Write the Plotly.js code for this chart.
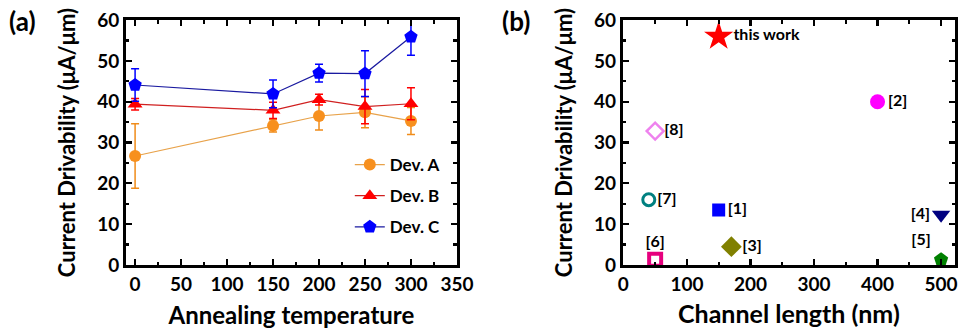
<!DOCTYPE html>
<html>
<head>
<meta charset="utf-8">
<script src="https://cdn.plot.ly/plotly-3.0.1.min.js"></script>
<style>html,body{margin:0;padding:0;background:#fff;}#chart{width:961px;height:329px;}</style>
</head>
<body>
<div id="chart"></div>
<script>
// Panel (a): annealing temperature
const temps = [0, 150, 200, 250, 300];
const devA = [26.7, 34.1, 36.5, 37.4, 35.3];
const devAerr = [7.9, 1.5, 3.4, 3.8, 3.3];
const devB = [39.4, 37.9, 40.5, 38.8, 39.5];
const devBerr = [1.4, 2.0, 1.3, 4.2, 3.9];
const devC = [44.1, 41.9, 47.0, 46.9, 55.9];
const devCerr = [4.0, 3.4, 2.2, 5.6, 4.5];

// Panel (b): comparison with references
const refLabels = ['this work', '[2]', '[8]', '[7]', '[1]', '[3]', '[6]', '[4]', '[5]'];
const refLength = [150, 400, 50, 40, 150, 170, 50, 500, 500];
const refDrive = [56, 40, 32.8, 16, 13.5, 4.5, 1.3, 12.3, 1.3];

const font = {family: 'Lato, "Open Sans", sans-serif', color: '#000'};
const F = (size) => Object.assign({}, font, {size: size, weight: 'bold'});

const errStyle = (arr, color) => ({type: 'data', array: arr, visible: true, color: color, thickness: 1.5, width: 4});

const traces = [
  {x: temps, y: devA, name: 'Dev. A', xaxis: 'x', yaxis: 'y', mode: 'lines+markers', legendgroup: 'a',
   line: {color: '#E8A24A', width: 1.2}, marker: {symbol: 'circle', size: 12, color: '#F7901E'},
   error_y: errStyle(devAerr, '#F08C1A')},
  {x: temps, y: devB, name: 'Dev. B', xaxis: 'x', yaxis: 'y', mode: 'lines+markers', legendgroup: 'b',
   line: {color: '#D02020', width: 1.2}, marker: {symbol: 'triangle-up', size: 13, color: '#FF0000'},
   error_y: errStyle(devBerr, '#FF0000')},
  {x: temps, y: devC, name: 'Dev. C', xaxis: 'x', yaxis: 'y', mode: 'lines+markers', legendgroup: 'c',
   line: {color: '#1A1AA0', width: 1.2}, marker: {symbol: 'pentagon', size: 14, color: '#0000FF'},
   error_y: errStyle(devCerr, '#0000FF')},
  {x: refLength, y: refDrive, text: refLabels, xaxis: 'x2', yaxis: 'y2', mode: 'markers+text', showlegend: false,
   textposition: ['middle right', 'middle right', 'middle right', 'middle right', 'middle right', 'middle right', 'top center', 'middle left', 'top left'],
   textfont: F(16),
   marker: {
     opacity: 1,
     symbol: ['star', 'circle', 'diamond-open', 'circle-open', 'square', 'diamond', 'square-open', 'triangle-down', 'pentagon'],
     size: [22, 15, 13, 12, 13, 16, 12, 16, 15],
     color: ['#FF0000', '#FF00FF', '#EE82EE', '#008080', '#0000FF', '#808000', '#E6007E', '#000080', '#008000'],
     line: {width: [0, 0, 2.5, 3, 0, 0, 4, 0, 0]}
   }}
];

const axisCommon = {
  showline: true, linecolor: '#000', linewidth: 2.8, mirror: 'ticks',
  ticks: 'inside', ticklen: 6, tickwidth: 2.2, tickcolor: '#000',
  showgrid: false, zeroline: false, tickfont: F(19),
  minor: {ticks: 'inside', ticklen: 3.5, tickwidth: 2.2, tickcolor: '#000'}
};

const layout = {
  width: 961, height: 329,
  margin: {l: 0, r: 0, t: 0, b: 0},
  paper_bgcolor: '#fff', plot_bgcolor: '#fff',
  showlegend: true,
  legend: {x: 0.364, y: 0.553, xanchor: 'left', yanchor: 'top', font: F(17), bgcolor: 'rgba(0,0,0,0)', tracegroupgap: 6, itemwidth: 30},
  xaxis: Object.assign({}, axisCommon, {domain: [0.131, 0.4755], range: [-10, 350], dtick: 50, tick0: 0,
    minor: Object.assign({}, axisCommon.minor, {dtick: 25}),
    title: {text: 'Annealing temperature', font: F(24), standoff: 14}}),
  yaxis: Object.assign({}, axisCommon, {domain: [0.1945, 0.939], range: [0, 60], dtick: 10,
    minor: Object.assign({}, axisCommon.minor, {dtick: 5}),
    title: {text: 'Current Drivability (μA/μm)', font: F(22), standoff: 16}}),
  xaxis2: Object.assign({}, axisCommon, {anchor: 'y2', domain: [0.648, 0.9938], range: [-1, 522], dtick: 100, tick0: 0,
    minor: Object.assign({}, axisCommon.minor, {dtick: 50}),
    title: {text: 'Channel length (nm)', font: F(25), standoff: 12}}),
  yaxis2: Object.assign({}, axisCommon, {anchor: 'x2', domain: [0.1945, 0.939], range: [0, 60], dtick: 10,
    minor: Object.assign({}, axisCommon.minor, {dtick: 5}),
    title: {text: 'Current Drivability (μA/μm)', font: F(22), standoff: 16}}),
  annotations: [
    {text: '(a)', xref: 'paper', yref: 'paper', x: 0.007, y: 0.99, xanchor: 'left', yanchor: 'top', showarrow: false, font: F(26)},
    {text: '(b)', xref: 'paper', yref: 'paper', x: 0.520, y: 0.99, xanchor: 'left', yanchor: 'top', showarrow: false, font: F(26)}
  ]
};

Plotly.newPlot('chart', traces, layout, {displayModeBar: false, staticPlot: true});
</script>
</body>
</html>
